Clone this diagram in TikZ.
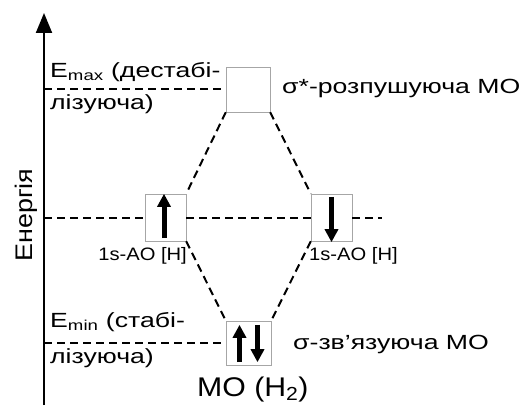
\documentclass[tikz,border=0pt]{standalone}
\usepackage{fontspec}
\setmainfont[FakeStretch=1.3]{Liberation Sans}
\newfontfamily\mofont[FakeStretch=1.12]{Liberation Sans}
\usetikzlibrary{arrows.meta,positioning,calc}

\begin{document}
\begin{tikzpicture}[x=1pt,y=1pt,
  lvl/.style={draw=gray!70,fill=white,inner sep=0pt},
  ln/.style={black,line width=2pt,dash pattern=on 8pt off 5pt},
  spin/.style={black,line width=5pt,-{Triangle[width=13pt,length=13pt]}},
  lbl/.style={font=\fontsize{20.5}{24}\selectfont,inner sep=0pt},
  aolbl/.style={font=\mofont\fontsize{18}{20}\selectfont,inner sep=0pt}
]
\useasboundingbox (0,0) rectangle (522,405);
% energy axis
\coordinate (o) at (44,0);
\coordinate (top) at (44,392);
\draw[line width=2pt,-{Triangle[width=16pt,length=20pt]}] (o) -- (top);
\node[rotate=90,anchor=base,inner sep=0pt,font=\mofont\fontsize{24}{27}\selectfont] (en) at (32,190) {Енергія};
% levels
\node[lvl,minimum width=44pt,minimum height=45pt] (sstar) at (248,315.5) {};
\node[lvl,minimum width=41pt,minimum height=47pt] (aoL) at (165.5,187.5) {};
\node[lvl,minimum width=41pt,minimum height=47pt] (aoR) at (331.5,187.5) {};
\node[lvl,minimum width=45pt,minimum height=44pt] (sig) at (248.5,62) {};
\coordinate (mend) at (382,187.5);
\draw[ln] (sstar.west -| o) -- (sstar.west);
\draw[ln] (aoL.west -| o) -- (aoL.west);
\draw[ln] (aoL.east) -- (aoR.west);
\draw[ln] (aoR.east) -- (mend);
\draw[ln] (sig.west -| o) -- (sig.west);
% correlation lines
\draw[ln] (sstar.south west) -- (aoL.north east);
\draw[ln] (sstar.south east) -- (aoR.north west);
\draw[ln] (aoL.south east) -- (sig.north west);
\draw[ln] (aoR.south west) -- (sig.north east);
% electrons
\draw[spin] ([xshift=-1.5pt,yshift=3pt]aoL.south) -- ([xshift=-1.5pt]aoL.north);
\draw[spin] ([yshift=-3pt]aoR.north) -- ([yshift=-1pt]aoR.south);
\draw[spin] ([xshift=-9pt,yshift=3pt]sig.south) -- ([xshift=-9pt,yshift=-4pt]sig.north);
\draw[spin] ([xshift=9pt,yshift=-4pt]sig.north) -- ([xshift=9pt,yshift=3pt]sig.south);
% labels
\node[lbl,anchor=base west] (emax) at (50,327.7) {E\textsubscript{max} (дестабі-};
\node[lbl,anchor=base west] (emax2) at (50,295) {лізуюча)};
\node[lbl,anchor=base west] (emin) at (50,77.7) {E\textsubscript{min} (стабі-};
\node[lbl,anchor=base west] (emin2) at (50,42) {лізуюча)};
\node[lbl,anchor=base west] (sstarl) at (282,311) {σ*-розпушуюча МО};
\node[lbl,anchor=base west] (sigl) at (293,56) {σ-зв’язуюча МО};
\node[aolbl,anchor=base east] (aoLl) at (187,144.3) {1s-AO [H]};
\node[aolbl,anchor=base west] (aoRl) at (309,144.3) {1s-AO [H]};
\node[anchor=base west,inner sep=0pt,font=\mofont\fontsize{27}{30}\selectfont] (mo) at (197,9) {МО (H\textsubscript{2})};
\end{tikzpicture}
\end{document}
